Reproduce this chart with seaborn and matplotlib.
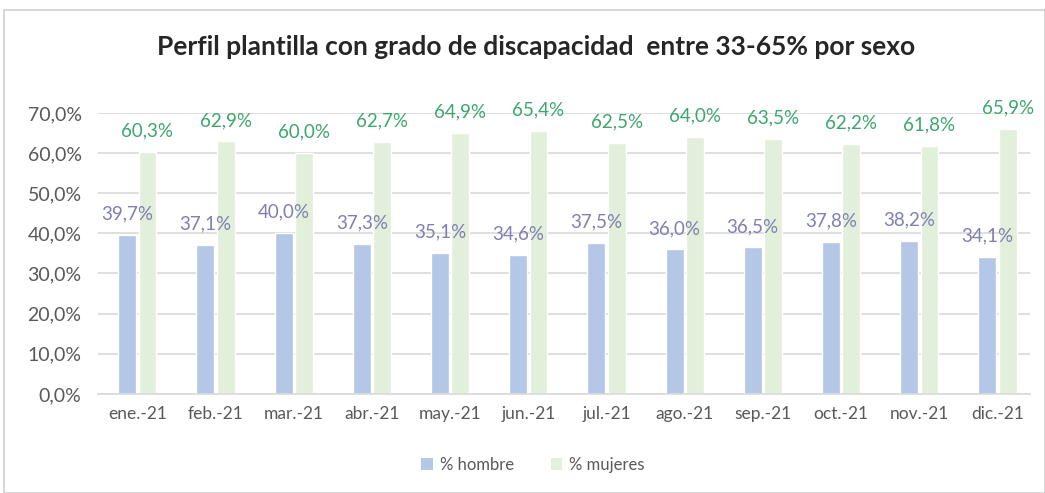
import matplotlib
matplotlib.use("Agg")
import matplotlib.pyplot as plt
import seaborn as sns
import pandas as pd
from matplotlib.patches import Rectangle, Patch

months = ["ene.-21", "feb.-21", "mar.-21", "abr.-21", "may.-21", "jun.-21",
          "jul.-21", "ago.-21", "sep.-21", "oct.-21", "nov.-21", "dic.-21"]
hombre = [39.7, 37.1, 40.0, 37.3, 35.1, 34.6, 37.5, 36.0, 36.5, 37.8, 38.2, 34.1]
mujeres = [60.3, 62.9, 60.0, 62.7, 64.9, 65.4, 62.5, 64.0, 63.5, 62.2, 61.8, 65.9]
series = ["% hombre", "% mujeres"]
yticks = [0, 10, 20, 30, 40, 50, 60, 70]

sns.set_theme(style="white")
plt.rcParams["font.family"] = ["Lato", "DejaVu Sans"]

df = pd.DataFrame({
    "mes": months * 2,
    "serie": [series[0]] * len(months) + [series[1]] * len(months),
    "valor": hombre + mujeres,
})

colors = {"% hombre": "#B4C7E7", "% mujeres": "#E2EFDA"}
label_colors = {"% hombre": "#7F7FB2", "% mujeres": "#3DA66E"}

fig = plt.figure(figsize=(10.45, 4.93), dpi=100)
ax = fig.add_axes([0.094, 0.201, 0.892, 0.570])

sns.barplot(data=df, x="mes", y="valor", hue="serie", order=months,
            hue_order=series, palette=colors, width=0.52, gap=0.12,
            ax=ax, legend=False, saturation=1)

ax.set_ylim(0, 70)
ax.set_yticks(yticks)
ax.set_yticklabels([f"{v:.1f}%".replace(".", ",") for v in yticks],
                   fontsize=14, color="#595959")
ax.tick_params(axis="x", labelsize=12.5, colors="#595959", length=0, pad=9)
ax.tick_params(axis="y", length=0, pad=12)
ax.set_xlabel("")
ax.set_ylabel("")
ax.grid(axis="y", color="#D9D9D9", linewidth=1.2)
ax.set_axisbelow(True)
for s in ["top", "right", "left"]:
    ax.spines[s].set_visible(False)
ax.spines["bottom"].set_color("#D9D9D9")
ax.spines["bottom"].set_linewidth(1.2)
ax.set_xlim(-0.5, 11.42)

for cont, name in zip(ax.containers, series):
    labels = [f"{v:.1f}%".replace(".", ",") for v in cont.datavalues]
    ax.bar_label(cont, labels=labels, padding=9, fontsize=13.5,
                 color=label_colors[name])

fig.text(0.513, 0.905, "Perfil plantilla con grado de discapacidad  entre 33-65% por sexo",
         ha="center", va="center", fontsize=19, fontweight="bold", color="#262626")

handles = [Patch(facecolor=colors[s], edgecolor="none") for s in series]
fig.legend(handles, series, loc="center", bbox_to_anchor=(0.51, 0.057),
           ncol=2, frameon=False, fontsize=12, handlelength=0.7,
           handleheight=0.7, handletextpad=0.4, columnspacing=2.2,
           labelcolor="#595959")

fig.patches.append(Rectangle((4 / 1045, 0), 1 - 4 / 1045 - 0.5 / 1045, 1 - 10 / 493,
                             transform=fig.transFigure, fill=False,
                             edgecolor="#D0D0D0", linewidth=1.2))

fig.savefig("out.png", dpi=100, facecolor="white")
